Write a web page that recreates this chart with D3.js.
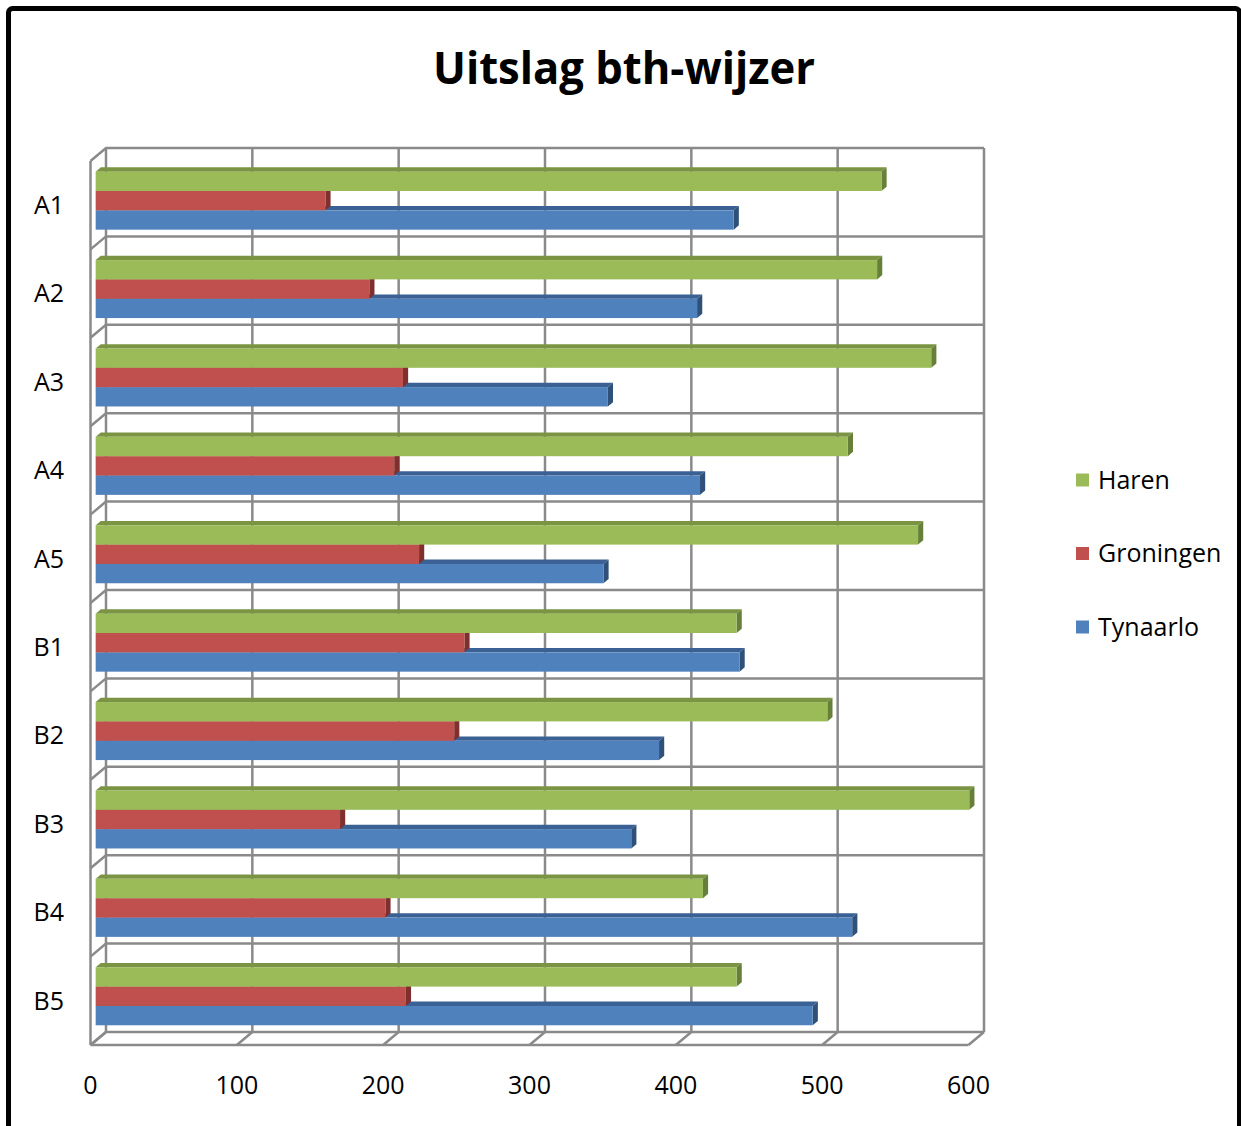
<!DOCTYPE html>
<html lang="nl">
<head>
<meta charset="UTF-8">
<title>Uitslag bth-wijzer</title>
<script src="https://cdn.jsdelivr.net/npm/d3@7/dist/d3.min.js"></script>
<style>
	body { margin: 0; background: #fff; }
	svg text { font-family: "Open Sans", sans-serif; fill: #000; }
</style>
</head>
<body>
<div id="viz"></div>
<script>
// chart values
const categories = ['A1', 'A2', 'A3', 'A4', 'A5', 'B1', 'B2', 'B3', 'B4', 'B5'];
const seriesNames = ['Haren', 'Groningen', 'Tynaarlo'];
const haren = [537, 534, 571, 514, 562, 438, 500, 597, 415, 438];
const groningen = [157, 187, 210, 204, 221, 252, 245, 167, 198, 212];
const tynaarlo = [436, 411, 350, 413, 347, 440, 385, 366, 517, 490];
const xTicks = [0, 100, 200, 300, 400, 500, 600];

const W = 1241, H = 1126;

// 3d look: depth shift from back wall to front edge
const DX = -15.5, DY = 13;

const front = {Haren: '#9bbb59', Groningen: '#c0504d', Tynaarlo: '#4f81bd'};
const topC = {Haren: '#7a9444', Groningen: '#9a3d3a', Tynaarlo: '#3b6194'};
const side = {Haren: '#66803a', Groningen: '#7f2f2d', Tynaarlo: '#2f5079'};
const values = {Haren: haren, Groningen: groningen, Tynaarlo: tynaarlo};

const svg = d3.select('#viz').append('svg')
	.attr('width', W).attr('height', H);

// outer frame
svg.append('rect')
	.attr('x', 8.5).attr('y', 8.5)
	.attr('width', 1231).attr('height', 1200)
	.attr('rx', 4)
	.attr('fill', '#fff')
	.attr('stroke', '#000')
	.attr('stroke-width', 5);

svg.append('text')
	.attr('x', 624).attr('y', 84)
	.attr('text-anchor', 'middle')
	.attr('font-size', 44)
	.attr('font-weight', 700)
	.attr('textLength', 382)
	.attr('lengthAdjust', 'spacingAndGlyphs')
	.text('Uitslag bth-wijzer');

// scales on the back wall
let x = d3.scaleLinear().domain([0, 600]).range([106, 984]);
let y = d3.scaleBand().domain(categories).range([148, 1032]);
let inner = d3.scaleBand().domain(seriesNames).range([15, 73]);

const P = (px, py, d) => [px + DX * d, py + DY * d];
const grid = svg.append('g')
	.attr('fill', 'none')
	.attr('stroke', '#8a8a8a')
	.attr('stroke-width', 2.5);

// back wall verticals
grid.selectAll('.vg').data(xTicks).enter().append('line')
	.attr('x1', d => x(d)).attr('x2', d => x(d))
	.attr('y1', 148).attr('y2', 1032);

// back wall horizontals + left wall diagonals
let yLines = categories.map(c => y(c)).concat([1032]);
grid.selectAll('.hg').data(yLines).enter().append('path')
	.attr('d', d => {
		let a = P(x(0), d, 1);
		return 'M' + a + 'L' + [x(0), d] + 'L' + [x(600), d];
	});

// left wall front edge
grid.append('line')
	.attr('x1', x(0) + DX).attr('x2', x(0) + DX)
	.attr('y1', 148 + DY).attr('y2', 1032 + DY);

// floor
grid.append('line')
	.attr('x1', x(0) + DX).attr('x2', x(600) + DX)
	.attr('y1', 1032 + DY).attr('y2', 1032 + DY);
grid.selectAll('.fl').data(xTicks).enter().append('line')
	.attr('x1', d => x(d)).attr('y1', 1032)
	.attr('x2', d => x(d) + DX).attr('y2', 1032 + DY);

// bars, drawn bottom series first so upper fronts cover lower tops
const bars = svg.append('g');
categories.forEach((c, i) => {
	seriesNames.slice().reverse().forEach(s => {
		let v = values[s][i];
		let yt = y(c) + inner(s), yb = yt + inner.bandwidth();
		let x0 = x(0), x1 = x(v);
		let f = (px, py) => P(px, py, 2 / 3);
		let b = (px, py) => P(px, py, 1 / 3);
		let g = bars.append('g');
		// top face
		g.append('path')
			.attr('d', 'M' + f(x0, yt) + 'L' + f(x1, yt) + 'L' + b(x1, yt) + 'L' + b(x0, yt) + 'Z')
			.attr('fill', topC[s]);
		// end face
		g.append('path')
			.attr('d', 'M' + f(x1, yt) + 'L' + b(x1, yt) + 'L' + b(x1, yb) + 'L' + f(x1, yb) + 'Z')
			.attr('fill', side[s]);
		// front face
		let p = f(x0, yt), q = f(x1, yb);
		g.append('rect')
			.attr('x', p[0]).attr('y', p[1])
			.attr('width', q[0] - p[0]).attr('height', q[1] - p[1])
			.attr('fill', front[s]);
	});
});

// category labels
svg.selectAll('.cat').data(categories).enter().append('text')
	.attr('x', 64)
	.attr('y', d => y(d) + y.bandwidth() / 2 + DY)
	.attr('dy', '0.35em')
	.attr('text-anchor', 'end')
	.attr('font-size', 25)
	.text(d => d);

// value axis labels
svg.selectAll('.tick').data(xTicks).enter().append('text')
	.attr('x', d => x(d) + DX)
	.attr('y', 1085)
	.attr('dy', '0.35em')
	.attr('text-anchor', 'middle')
	.attr('font-size', 25)
	.text(d => d);

// legend
const legend = svg.append('g');
seriesNames.forEach((s, i) => {
	let ly = 480 + i * 73.5;
	legend.append('rect')
		.attr('x', 1076).attr('y', ly - 6.5)
		.attr('width', 13).attr('height', 13)
		.attr('fill', front[s]);
	legend.append('text')
		.attr('x', 1098).attr('y', ly)
		.attr('dy', '0.35em')
		.attr('font-size', 25)
		.text(s);
});
</script>
</body>
</html>
